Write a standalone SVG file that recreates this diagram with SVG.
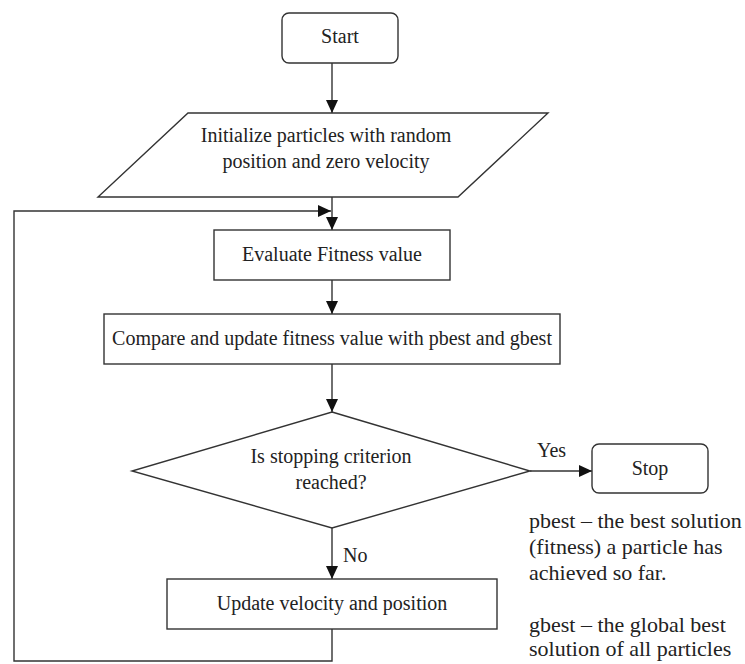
<svg xmlns="http://www.w3.org/2000/svg" width="745" height="664" viewBox="0 0 745 664">
<style>
  .shape { fill: #ffffff; stroke: #333333; stroke-width: 1.4; }
  .conn { fill: none; stroke: #333333; stroke-width: 1.4; }
  .t { font-family: 'Liberation Serif', 'DejaVu Serif', 'Noto Serif', serif; font-size: 20px; fill: #222222; }
  .tc { text-anchor: middle; }
  .note { font-family: 'Liberation Serif', 'DejaVu Serif', 'Noto Serif', serif; font-size: 22px; fill: #222222; }
</style>
<defs>
  <marker id="arrow" markerUnits="userSpaceOnUse" markerWidth="14" markerHeight="12" refX="13" refY="6" orient="auto">
    <path d="M0,0 L13,6 L0,12 Z" fill="#111111"/>
  </marker>
</defs>
<rect width="745" height="664" fill="#ffffff"/>

<g id="connectors">
  <line class="conn" x1="332" y1="63" x2="332" y2="113" marker-end="url(#arrow)"/>
  <line class="conn" x1="332" y1="197" x2="332" y2="230" marker-end="url(#arrow)"/>
  <polyline class="conn" points="332,629 332,661 14,661 14,211 331,211" marker-end="url(#arrow)"/>
  <line class="conn" x1="332" y1="280" x2="332" y2="314" marker-end="url(#arrow)"/>
  <line class="conn" x1="332" y1="364" x2="332" y2="412" marker-end="url(#arrow)"/>
  <line class="conn" x1="530" y1="471" x2="592" y2="471" marker-end="url(#arrow)"/>
  <line class="conn" x1="332" y1="528" x2="332" y2="579" marker-end="url(#arrow)"/>
  <text class="t" x="537" y="457">Yes</text>
  <text class="t" x="343" y="562">No</text>
</g>

<g id="start">
  <rect class="shape" x="282" y="13" width="116" height="50" rx="7"/>
  <text class="t tc" x="340" y="43">Start</text>
</g>

<g id="init">
  <polygon class="shape" points="188,113 548,113 458,197 98,197"/>
  <text class="t tc" x="326" y="142">Initialize particles with random</text>
  <text class="t tc" x="326" y="168">position and zero velocity</text>
</g>

<g id="evaluate">
  <rect class="shape" x="214" y="230" width="236" height="50"/>
  <text class="t tc" x="332" y="261">Evaluate Fitness value</text>
</g>

<g id="compare">
  <rect class="shape" x="104" y="314" width="456" height="50"/>
  <text class="t tc" x="332" y="345">Compare and update fitness value with pbest and gbest</text>
</g>

<g id="decision">
  <polygon class="shape" points="332,412 530,471 332,528 132,471"/>
  <text class="t tc" x="331" y="463">Is stopping criterion</text>
  <text class="t tc" x="331" y="489">reached?</text>
</g>

<g id="stop">
  <rect class="shape" x="592" y="444" width="116" height="49" rx="7"/>
  <text class="t tc" x="650" y="475">Stop</text>
</g>

<g id="update">
  <rect class="shape" x="167" y="579" width="330" height="50"/>
  <text class="t tc" x="332" y="610">Update velocity and position</text>
</g>

<g id="notes">
  <text class="note" x="529" y="528">pbest – the best solution</text>
  <text class="note" x="529" y="554">(fitness) a particle has</text>
  <text class="note" x="529" y="580">achieved so far.</text>
  <text class="note" x="529" y="632">gbest – the global best</text>
  <text class="note" x="529" y="656">solution of all particles</text>
</g>
</svg>
